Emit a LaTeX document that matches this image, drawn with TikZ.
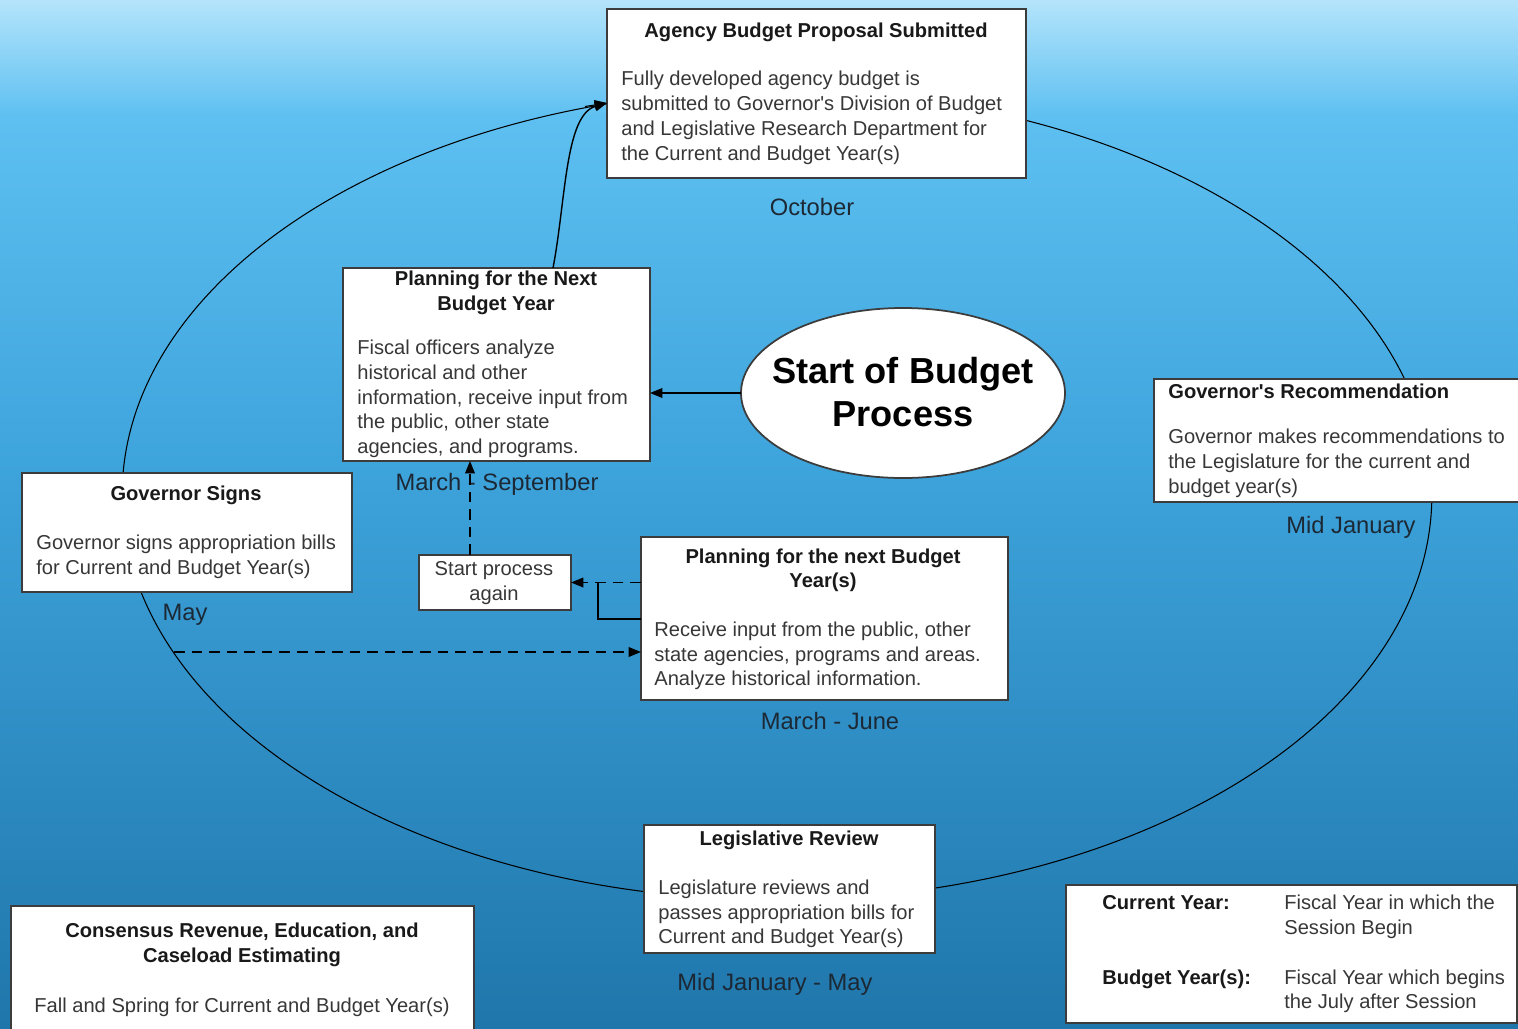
\documentclass[tikz,border=0pt]{standalone}
\usepackage{fontspec}
\setmainfont{Liberation Sans}
\usetikzlibrary{arrows.meta,shapes.geometric}
\definecolor{bgA}{RGB}{180,228,251}
\definecolor{bgB}{RGB}{94,192,241}
\definecolor{bgC}{RGB}{62,164,220}
\definecolor{bgD}{RGB}{31,118,171}
\definecolor{boxline}{RGB}{60,60,60}
\definecolor{bodytxt}{RGB}{55,55,55}
\definecolor{labtxt}{RGB}{28,40,52}
\begin{document}
\begin{tikzpicture}[x=0.02cm,y=-0.02cm,
  bx/.style 2 args={draw=boxline,line width=1pt,fill=white,inner sep=0pt,outer sep=0pt,
    minimum width=#1*0.02cm,minimum height=#2*0.02cm},
  oval/.style={ellipse,draw=boxline,line width=1pt,fill=white,inner sep=0pt,outer sep=0pt,
    minimum width=324*0.02cm,minimum height=170*0.02cm},
  big/.style={font=\fontsize{20.6}{24.4}\selectfont\bfseries,text=black,inner sep=0pt,anchor=base},
  ttl/.style={font=\fontsize{11.45}{14.2}\selectfont\bfseries,text=black!90,inner sep=0pt},
  bod/.style={font=\fontsize{11.45}{14.2}\selectfont,text=bodytxt,inner sep=0pt},
  lab/.style={font=\fontsize{13.5}{16}\selectfont,text=labtxt,inner sep=0pt,anchor=base},
  arr/.style={-{Triangle[length=7pt,width=5.5pt]},line width=0.8pt,black},
  dsh/.style={dash pattern=on 6pt off 4pt}]
\useasboundingbox (0,0) rectangle (1518,1028);
\clip (0,0) rectangle (1518,1028);
% background
\fill[top color=bgA,bottom color=bgB] (0,0) rectangle (1518,116);
\fill[top color=bgB,bottom color=bgC] (0,115) rectangle (1518,461);
\fill[top color=bgC,bottom color=bgD] (0,460) rectangle (1518,1028);
% cycle
\draw[line width=0.6pt,black] (777,495) ellipse [x radius=13.1cm,y radius=8.1cm];
% boxes
\node[bx={419}{169}] (ag) at (816.5,93.5) {};
\node[bx={307}{193}] (pl) at (496.5,364.5) {};
\node[oval] (ov) at (903,393) {};
\node[bx={380}{123}] (gr) at (1344,440.5) {};
\node[bx={330}{119}] (gs) at (187,532.5) {};
\node[bx={152}{55}] (sa) at (495,582.5) {};
\node[bx={367}{163}] (pn) at (824.5,618.5) {};
\node[bx={291}{128}] (lr) at (789.5,889) {};
\node[bx={463}{140}] (ce) at (242.5,976) {};
\node[bx={451}{138}] (lg) at (1291.5,954) {};
% texts
\node[big] (ovT1) at (903,383) {Start of Budget};
\node[big] (ovT2) at (903,426) {Process};
\node[ttl,anchor=base] (agT) at (816,37) {Agency Budget Proposal Submitted};
\foreach \t [count=\i] in {Fully developed agency budget is,submitted to Governor\textquotesingle s Division of Budget,and Legislative Research Department for,the Current and Budget Year(s)}
  \node[bod,anchor=base west] (agB\i) at (621,{85.5+25*(\i-1)}) {\t};
\node[ttl,anchor=base] (plT1) at (496,285.5) {Planning for the Next};
\node[ttl,anchor=base] (plT2) at (496,310.5) {Budget Year};
\foreach \t [count=\i] in {Fiscal officers analyze,historical and other,{information, receive input from},{the public, other state},{agencies, and programs.}}
  \node[bod,anchor=base west] (plB\i) at (357,{354.5+24.75*(\i-1)}) {\t};
\node[ttl,anchor=base west] (grT) at (1168,398.5) {Governor\textquotesingle s Recommendation};
\foreach \t [count=\i] in {Governor makes recommendations to,the Legislature for the current and,budget year(s)}
  \node[bod,anchor=base west] (grB\i) at (1168,{443.5+25*(\i-1)}) {\t};
\node[ttl,anchor=base] (gsT) at (186,500.5) {Governor Signs};
\foreach \t [count=\i] in {Governor signs appropriation bills,for Current and Budget Year(s)}
  \node[bod,anchor=base west] (gsB\i) at (36,{549.5+25*(\i-1)}) {\t};
\node[bod,anchor=base] (saT1) at (494,575.5) {Start process};
\node[bod,anchor=base] (saT2) at (494,600.5) {again};
\node[ttl,anchor=base] (pnT1) at (823,563.5) {Planning for the next Budget};
\node[ttl,anchor=base] (pnT2) at (823,587.5) {Year(s)};
\foreach \t [count=\i] in {{Receive input from the public, other},{state agencies, programs and areas.},Analyze historical information.}
  \node[bod,anchor=base west] (pnB\i) at (654,{636.5+24.5*(\i-1)}) {\t};
\node[ttl,anchor=base] (lrT) at (789,845.5) {Legislative Review};
\foreach \t [count=\i] in {Legislature reviews and,passes appropriation bills for,Current and Budget Year(s)}
  \node[bod,anchor=base west] (lrB\i) at (658,{894.5+24.5*(\i-1)}) {\t};
\node[ttl,anchor=base] (ceT1) at (242,937.5) {Consensus Revenue, Education, and};
\node[ttl,anchor=base] (ceT2) at (242,962.5) {Caseload Estimating};
\node[bod,anchor=base] (ceB) at (242,1012.5) {Fall and Spring for Current and Budget Year(s)};
\node[ttl,anchor=base west] (lgK1) at (1102,909.5) {Current Year:};
\node[bod,anchor=base west] (lgV1a) at (1284,909.5) {Fiscal Year in which the};
\node[bod,anchor=base west] (lgV1b) at (1284,934.5) {Session Begin};
\node[ttl,anchor=base west] (lgK2) at (1102,984.5) {Budget Year(s):};
\node[bod,anchor=base west] (lgV2a) at (1284,984.5) {Fiscal Year which begins};
\node[bod,anchor=base west] (lgV2b) at (1284,1008.5) {the July after Session};
% period labels
\node[lab] (lOct) at (812,215) {October};
\node[lab] (lMS) at (497,490) {March - September};
\node[lab] (lMJ) at (1351,533) {Mid January};
\node[lab] (lMay) at (185,620) {May};
\node[lab] (lMJu) at (830,729) {March - June};
\node[lab] (lMJM) at (775,990) {Mid January - May};
% connectors
\coordinate (eA) at (585,106.5);
\draw[arr,line width=0.6pt] (eA) -- ([shift={(0,9.5)}]ag.west);
\draw[arr] ([shift={(56.5,0)}]pl.north) .. controls (566,200) and (565,115) .. ([shift={(0,9.5)}]ag.west);
\draw[arr] (ov.west) -- (ov.west -| pl.east);
\draw[arr,dsh] ([shift={(-25,0)}]sa.north) -- ([shift={(-25,0)}]sa.north |- pl.south);
\draw[arr,dsh] ([shift={(0,-36)}]pn.west) -- (sa.east);
\draw[line width=0.8pt] ([shift={(0,0.5)}]pn.west) -| ([shift={(27,0)}]sa.east);
\coordinate (mS) at (174,652);
\draw[arr,dsh] (mS) -- (mS -| pn.west);
\end{tikzpicture}
\end{document}
